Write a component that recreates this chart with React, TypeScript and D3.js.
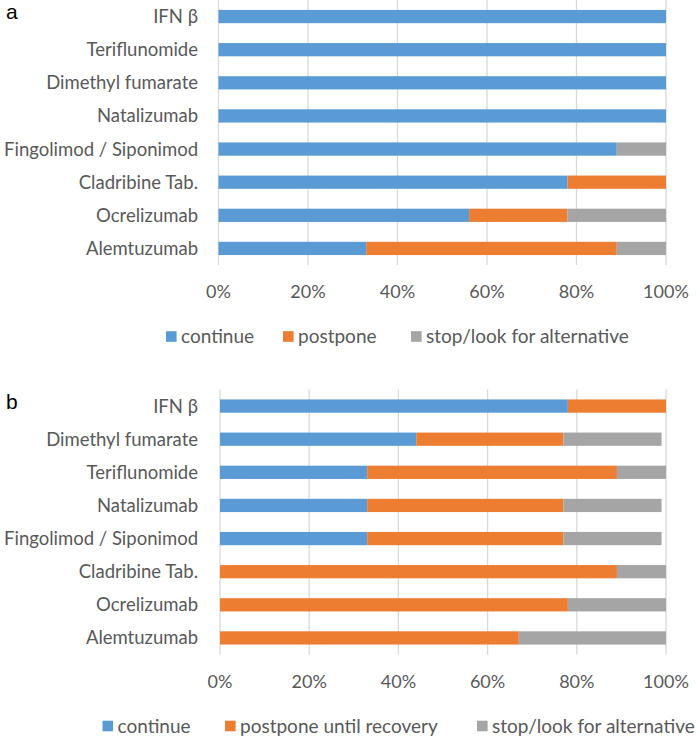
import React from 'react';
import * as d3 from 'd3';

// panel a: continuation of DMT during infection
const drugsA = ['IFN β', 'Teriflunomide', 'Dimethyl fumarate', 'Natalizumab', 'Fingolimod / Siponimod', 'Cladribine Tab.', 'Ocrelizumab', 'Alemtuzumab'];
const continueA = [100, 100, 100, 100, 89, 78, 56, 33];
const postponeA = [0, 0, 0, 0, 0, 22, 22, 56];
const stopA = [0, 0, 0, 0, 11, 0, 22, 11];
const legendA = ['continue', 'postpone', 'stop/look for alternative'];

// panel b
const drugsB = ['IFN β', 'Dimethyl fumarate', 'Teriflunomide', 'Natalizumab', 'Fingolimod / Siponimod', 'Cladribine Tab.', 'Ocrelizumab', 'Alemtuzumab'];
const continueB = [78, 44, 33, 33, 33, 0, 0, 0];
const postponeB = [22, 33, 56, 44, 44, 89, 78, 67];
const stopB = [0, 22, 11, 22, 22, 11, 22, 33];
const legendB = ['continue', 'postpone until recovery', 'stop/look for alternative'];

const ticks = [0, 20, 40, 60, 80, 100];
const colors = ['#5B9BD5', '#ED7D31', '#A5A5A5'];
const keys = ['c', 'p', 's'];
const font = 'Lato, "Open Sans", sans-serif';
const textColor = '#595959';

type PanelProps = {
  letter: string;
  top: number;
  x0: number;
  drugs: string[];
  series: number[][];
  legend: string[];
  legendX: number[];
};

const Panel = ({ letter, top, x0, drugs, series, legend, legendX }: PanelProps) => {
  const plotH = 265;
  const x = d3.scaleLinear().domain([0, 100]).range([x0, 666]);
  const y = d3.scaleBand().domain(drugs).range([top, top + plotH]).paddingInner(0.6).paddingOuter(0.3);

  const rows = drugs.map((d, i) => ({ drug: d, c: series[0][i], p: series[1][i], s: series[2][i] }));
  const stacked = d3.stack<any>().keys(keys)(rows);

  return (
    <g>
      <text x={6} y={top + 19} fontFamily="Liberation Sans, Arial, sans-serif" fontSize={21} fill="#000">{letter}</text>
      {ticks.map(t => (
        <line key={t} x1={x(t)} x2={x(t)} y1={top} y2={top + plotH} stroke="#D9D9D9" strokeWidth={1.3} />
      ))}
      {stacked.map((layer, li) => (
        <g key={layer.key} fill={colors[li]}>
          {layer.map((seg, i) => (
            <rect key={i} x={x(seg[0])} y={y(drugs[i])} width={Math.max(0, x(seg[1]) - x(seg[0]))} height={y.bandwidth()} />
          ))}
        </g>
      ))}
      {drugs.map(d => (
        <text key={d} x={198} y={(y(d) ?? 0) + y.bandwidth() / 2} dy="0.35em" textAnchor="end" fontFamily={font} fontSize={18.5} fill={textColor}>{d}</text>
      ))}
      {ticks.map(t => (
        <text key={t} x={x(t)} y={top + 292} dy="0.35em" textAnchor="middle" fontFamily={font} fontSize={18} fill={textColor}>{t}%</text>
      ))}
      {legend.map((l, i) => (
        <g key={l} transform={`translate(${legendX[i]},${top + 336.5})`}>
          <rect x={0} y={-5.3} width={10.6} height={10.6} fill={colors[i]} />
          <text x={15} y={0} dy="0.35em" fontFamily={font} fontSize={19} fill={textColor}>{l}</text>
        </g>
      ))}
    </g>
  );
};

export default function App() {
  return (
    <div style={{ position: 'absolute', left: 0, top: 0 }}>
      <svg width={696} height={736} style={{ display: 'block', background: '#fff' }}>
        <Panel letter="a" top={0} x0={218.5} drugs={drugsA} series={[continueA, postponeA, stopA]} legend={legendA} legendX={[166, 283, 411]} />
        <Panel letter="b" top={389.5} x0={220} drugs={drugsB} series={[continueB, postponeB, stopB]} legend={legendB} legendX={[102.5, 225, 477]} />
      </svg>
    </div>
  );
}
